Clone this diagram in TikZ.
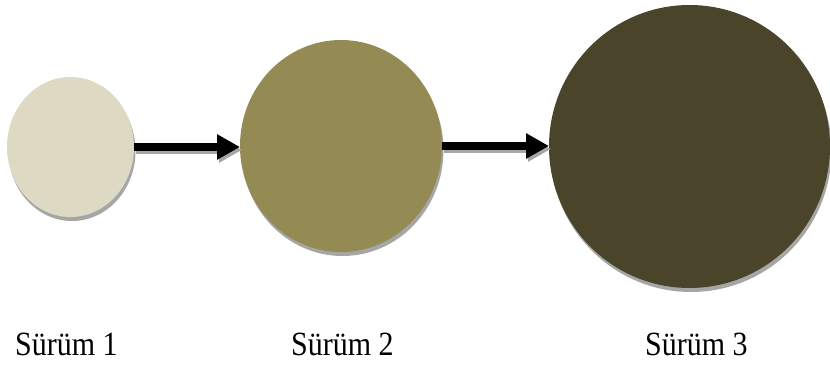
\documentclass[tikz,border=0pt]{standalone}
\usepackage{fontspec}
\setmainfont{Liberation Serif}
\usetikzlibrary{shapes.geometric,shadows,arrows.meta}
\definecolor{cA}{HTML}{DDD9C3}
\definecolor{cB}{HTML}{948A54}
\definecolor{cC}{HTML}{4A452A}
\definecolor{shd}{HTML}{A6A6A6}
\tikzset{
  disc/.style={ellipse, inner sep=0pt, outer sep=0pt, draw=none,
    drop shadow={shadow xshift=1.5pt, shadow yshift=-4pt, fill=shd, opacity=1}},
  flow/.style={line width=8pt, -{Triangle[length=23pt,width=24pt]}, shorten >=0pt},
  flowshadow/.style={flow, draw=shd, transform canvas={xshift=2pt,yshift=-3pt}},
  lbl/.style={anchor=base west, inner sep=0pt, font=\fontsize{30}{36}\selectfont}
}
\begin{document}
\begin{tikzpicture}[x=1pt,y=-1pt]
\useasboundingbox (0,0) rectangle (830,367);
\node[disc, fill=cA, minimum width=127pt, minimum height=140pt] (c1) at (70.5,147) {};
\node[disc, fill=cB, minimum width=202pt, minimum height=212pt] (c2) at (341,146) {};
\node[disc, fill=cC, minimum width=281pt, minimum height=283pt] (c3) at (689.5,146.5) {};
\draw[flowshadow] (c1.east) -- (c1.east -| c2.west);
\draw[flow] (c1.east) -- (c1.east -| c2.west);
\draw[flowshadow] (c2.east) -- (c2.east -| c3.west);
\draw[flow] (c2.east) -- (c2.east -| c3.west);
\node[lbl] (l1) at (15,355) {\scalebox{1}[1.13]{Sürüm 1}};
\node[lbl] (l2) at (291,355) {\scalebox{1}[1.13]{Sürüm 2}};
\node[lbl] (l3) at (645,355) {\scalebox{1}[1.13]{Sürüm 3}};
\end{tikzpicture}
\end{document}
